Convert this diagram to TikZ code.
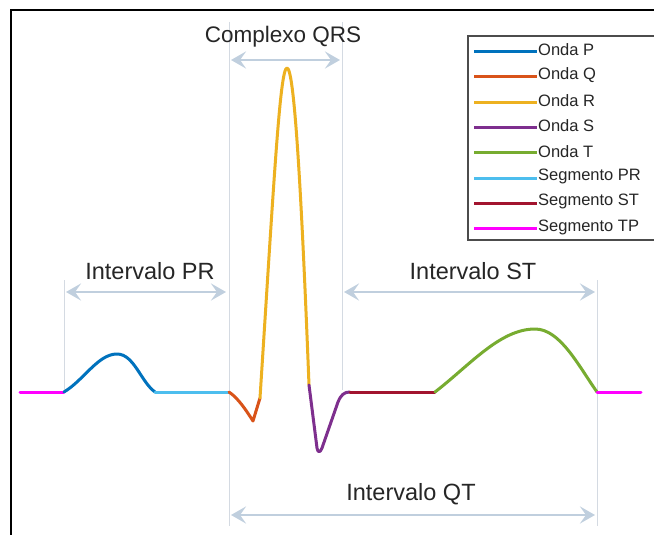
\documentclass[tikz,border=0pt]{standalone}
\usepackage{fontspec}
\setmainfont{Liberation Sans}
\usetikzlibrary{arrows.meta}

\definecolor{ondaP}{rgb}{0,0.447,0.741}
\definecolor{ondaQ}{rgb}{0.85,0.325,0.098}
\definecolor{ondaR}{rgb}{0.929,0.694,0.125}
\definecolor{ondaS}{rgb}{0.494,0.184,0.556}
\definecolor{ondaT}{rgb}{0.466,0.674,0.188}
\definecolor{segPR}{rgb}{0.301,0.745,0.933}
\definecolor{segST}{rgb}{0.635,0.078,0.184}
\definecolor{segTP}{rgb}{1,0,1}
\definecolor{guidegray}{RGB}{212,218,226}
\definecolor{spanblue}{RGB}{192,207,222}

\tikzset{
  wave/.style={line width=3pt, line cap=round, line join=round},
  guide/.style={draw=guidegray, line width=0.9pt},
  span/.style={draw=spanblue, line width=2.6pt,
    {Stealth[length=15pt, width=17pt, inset=6pt]}-{Stealth[length=15pt, width=17pt, inset=6pt]}},
  lbl/.style={font=\fontsize{23.5}{26}\selectfont, text=black!85},
  legtext/.style={font=\fontsize{16.5}{18}\selectfont, text=black!85, anchor=west, inner sep=1pt}
}

\begin{document}
\begin{tikzpicture}[x=1pt, y=-1pt]
  \useasboundingbox (0,0) rectangle (654,535);
  \fill[white] (0,0) rectangle (654,535);

  % frame
  \draw[line width=2pt] (11,545) -- (11,10) -- (665,10);

  % guide lines
  \coordinate (prTop) at (64,280);   \coordinate (prBot) at (64,392);
  \coordinate (qTop) at (229,22);    \coordinate (qBot) at (229,526);
  \coordinate (sTop) at (342,22);    \coordinate (sBot) at (342,390);
  \coordinate (tTop) at (597,280);   \coordinate (tBot) at (597,526);
  \draw[guide] (prTop) -- (prBot);
  \draw[guide] (qTop) -- (qBot);
  \draw[guide] (sTop) -- (sBot);
  \draw[guide] (tTop) -- (tBot);

  % span arrows
  \coordinate (qrsL) at (231,60);  \coordinate (qrsR) at (340,60);
  \coordinate (prL) at (66,292);   \coordinate (prR) at (226,292);
  \coordinate (stL) at (344,292);  \coordinate (stR) at (595,292);
  \coordinate (qtL) at (231,515);  \coordinate (qtR) at (595,515);
  \draw[span] (qrsL) -- (qrsR);
  \draw[span] (prL) -- (prR);
  \draw[span] (stL) -- (stR);
  \draw[span] (qtL) -- (qtR);

  \node[lbl, font=\fontsize{22.5}{25}\selectfont] (qrsLabel) at (283,37) {Complexo QRS};
  \node[lbl] (prLabel) at (150,271) {Intervalo PR};
  \node[lbl] (stLabel) at (473,271) {Intervalo ST};
  \node[lbl] (qtLabel) at (411,494) {Intervalo QT};

  % ECG trace
  \draw[wave, segTP] (20,392) -- (64,392);
  \draw[wave, ondaP] (64,392) .. controls (84,380) and (98,354) .. (117,354)
                     .. controls (134,354) and (141,382) .. (155,392);
  \draw[wave, segPR] (155,392) -- (229,392);
  \draw[wave, ondaQ] (229,392) .. controls (238,398) and (246,410) .. (253,421)
                     -- (260,398);
  \draw[wave, ondaR] (260,398) .. controls (274,180) and (280,68) .. (287,68)
                     .. controls (294,68) and (301,180) .. (309,385);
  \draw[wave, ondaS] (309,385) -- (317,448) .. controls (318,453) and (320,453) .. (322,448)
                     -- (338,402) .. controls (341,395) and (344,392) .. (350,392);
  \draw[wave, segST] (350,392) -- (435,392);
  \draw[wave, ondaT] (435,392) .. controls (470,365) and (500,329) .. (535,329)
                     .. controls (560,329) and (578,365) .. (597,392);
  \draw[wave, segTP] (597,392) -- (641,392);

  % legend
  \draw[draw=black!70, line width=1.3pt, fill=white] (468,36) rectangle (665,240);
  \foreach \name/\col [count=\i from 0] in {Onda P/ondaP, Onda Q/ondaQ, Onda R/ondaR,
      Onda S/ondaS, Onda T/ondaT, Segmento PR/segPR, Segmento ST/segST, Segmento TP/segTP}{
    \draw[line width=3pt, \col] (474,{51.5+25.3*\i}) -- (537,{51.5+25.3*\i});
    \node[legtext] (leg\i) at (537,{50+25.3*\i}) {\name};
  }
\end{tikzpicture}
\end{document}
